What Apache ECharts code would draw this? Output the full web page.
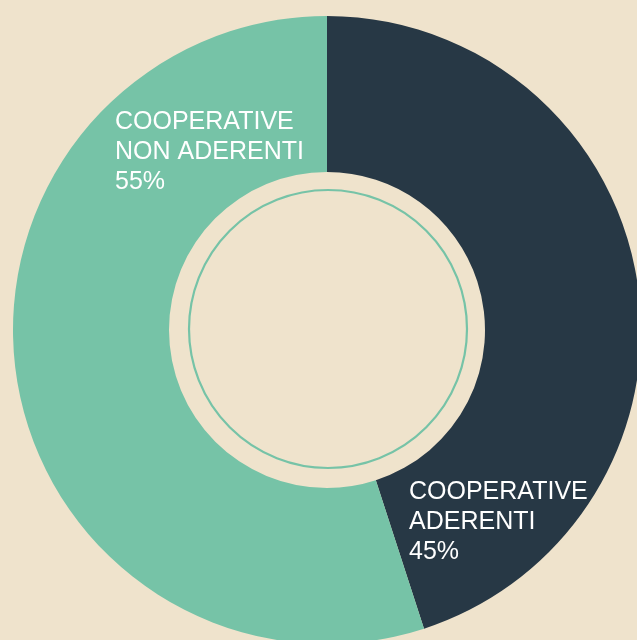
<!DOCTYPE html>
<html><head><meta charset="utf-8">
<script src="https://cdn.jsdelivr.net/npm/echarts@6/dist/echarts.min.js"></script>
<style>html,body{margin:0;padding:0;background:#efe3cc;}#c{width:637px;height:640px;}</style>
</head><body><div id="c"></div>
<script>
const categories = ['COOPERATIVE\nADERENTI', 'COOPERATIVE\nNON ADERENTI'];
const values = [45, 55];
const colors = ['#273845', '#76c3a7'];
const labelPos = [[409, 477], [115, 107]];

const chart = echarts.init(document.getElementById('c'), null, {renderer: 'canvas'});
chart.setOption({
  backgroundColor: '#efe3cc',
  animation: false,
  series: [{
    type: 'pie',
    center: [327, 330],
    radius: [158, 314],
    startAngle: 90,
    clockwise: true,
    silent: true,
    data: categories.map((c, i) => ({name: c, value: values[i], itemStyle: {color: colors[i]}})),
    label: {
      show: true,
      position: 'inside',
      formatter: p => p.name + '\n' + p.value + '%',
      color: '#ffffff',
      fontFamily: 'Liberation Sans, Arial, sans-serif',
      fontSize: 25,
      lineHeight: 30,
      align: 'left'
    },
    labelLine: {show: false},
    labelLayout: p => ({x: labelPos[p.dataIndex][0], y: labelPos[p.dataIndex][1], align: 'left', verticalAlign: 'top'})
  }],
  graphic: [{
    type: 'circle',
    shape: {cx: 328, cy: 329, r: 139},
    style: {fill: 'none', stroke: '#76c3a7', lineWidth: 2.2}
  }]
});
</script></body></html>
